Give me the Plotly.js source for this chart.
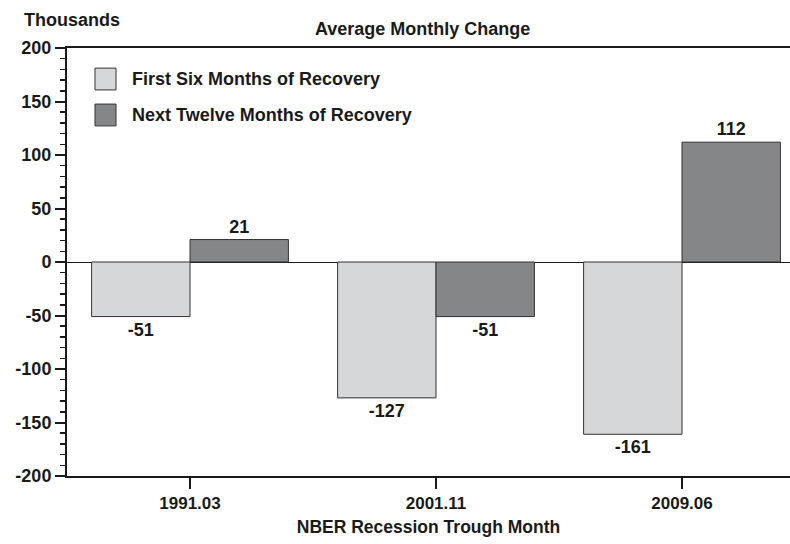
<!DOCTYPE html>
<html><head><meta charset="utf-8">
<script src="https://cdn.plot.ly/plotly-3.0.1.min.js"></script>
<style>body{margin:0;background:#fff}#c{width:790px;height:544px}</style>
</head><body><div id="c"></div>
<script>
const categories = ["1991.03", "2001.11", "2009.06"];
const seriesNames = ["First Six Months of Recovery", "Next Twelve Months of Recovery"];
const firstSix = [-51, -127, -161];
const nextTwelve = [21, -51, 112];
const yTickVals = [-200, -150, -100, -50, 0, 50, 100, 150, 200];
const yTickText = ["-200", "-150", "-100", "-50", "0", "50", "100", "150", "200"];
const colors = ['#d6d7d9', '#858688'];

const FONT = '"Liberation Sans Narrow", "Arial Narrow", "Liberation Sans", Arial, sans-serif';
const INK = '#1a1a1a';
const txtFont = {family: FONT, size: 18, color: INK, weight: 'bold'};

const traces = [
  {type: 'bar', name: seriesNames[0], x: categories, y: firstSix, showlegend: false,
   marker: {color: colors[0], line: {color: '#333', width: 1}},
   text: firstSix.map(String), textposition: 'outside', textfont: txtFont, cliponaxis: false},
  {type: 'bar', name: seriesNames[1], x: categories, y: nextTwelve, showlegend: false,
   marker: {color: colors[1], line: {color: '#333', width: 1}},
   text: nextTwelve.map(String), textposition: 'outside', textfont: txtFont, cliponaxis: false}
];

// legend drawn as paper-positioned squares + labels
const legendRows = [{y0: 0.902, y1: 0.953, ty: 0.928}, {y0: 0.818, y1: 0.869, ty: 0.8435}];
const shapes = legendRows.map((r, i) => ({type: 'rect', xref: 'paper', yref: 'paper',
  x0: 0.0387, x1: 0.0678, y0: r.y0, y1: r.y1, fillcolor: colors[i], line: {color: '#333', width: 1}}));
const annotations = legendRows.map((r, i) => ({text: seriesNames[i], xref: 'paper', yref: 'paper',
  x: 0.0871, y: r.ty, xanchor: 'left', yanchor: 'middle', showarrow: false, font: txtFont}));
annotations.push({text: 'Thousands', xref: 'paper', yref: 'paper', x: -0.062, y: 1.065,
  xanchor: 'left', yanchor: 'middle', showarrow: false, font: txtFont});

const layout = {
  width: 790, height: 544,
  margin: {l: 67, r: 0, t: 48, b: 68},
  paper_bgcolor: '#fff', plot_bgcolor: '#fff',
  barmode: 'group', bargap: 0.2, bargroupgap: 0,
  font: {family: FONT, color: INK},
  title: {text: 'Average Monthly Change', font: {family: FONT, size: 18, weight: 'bold', color: INK},
          x: 0.535, xanchor: 'center', y: 0.948, yanchor: 'middle'},
  showlegend: false,
  xaxis: {type: 'category', range: [-0.5, 2.439], showline: true, linecolor: INK, linewidth: 2,
          mirror: true, ticks: 'outside', ticklen: 11, tickwidth: 2, tickcolor: INK,
          tickfont: {family: FONT, size: 17, weight: 'bold', color: INK}, showgrid: false, zeroline: false,
          title: {text: 'NBER Recession Trough Month', font: {family: FONT, size: 17.5, weight: 'bold', color: INK}, standoff: 8}},
  yaxis: {range: [-200, 200], tickmode: 'array', tickvals: yTickVals, ticktext: yTickText,
          showline: true, linecolor: INK, linewidth: 2,
          ticks: 'outside', ticklen: 10, tickwidth: 2, tickcolor: INK,
          minor: {dtick: 10, ticks: 'outside', ticklen: 5, tickwidth: 1.5, tickcolor: INK, showgrid: false},
          tickfont: {family: FONT, size: 18, weight: 'bold', color: INK}, showgrid: false,
          zeroline: true, zerolinecolor: INK, zerolinewidth: 1},
  shapes: shapes,
  annotations: annotations
};

Plotly.newPlot('c', traces, layout, {displayModeBar: false, staticPlot: true});
</script></body></html>
